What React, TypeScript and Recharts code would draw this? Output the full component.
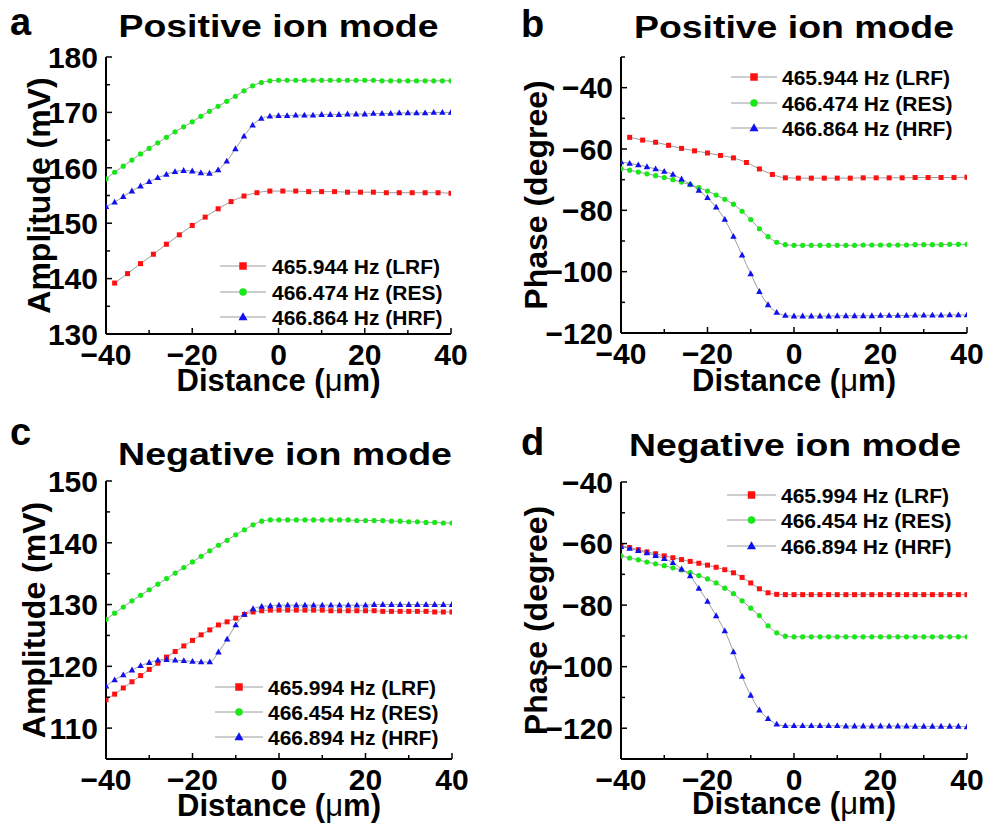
import React from "react";
import { LineChart, Line, XAxis, YAxis } from "recharts";

const FONT = '"Liberation Sans", Arial, Helvetica, sans-serif';
const LINE_GRAY = "#9c9c9c";
const RED = "#ff1010";
const GREEN = "#18e818";
const BLUE = "#1010f0";

// distance positions (µm)
const xDense = [
  -40, -38, -36, -34, -32, -30, -28, -26, -24, -22, -20, -18, -16, -14, -12, -10, -8, -6, -4, -2,
  0, 2, 4, 6, 8, 10, 12, 14, 16, 18, 20, 22, 24, 26, 28, 30, 32, 34, 36, 38, 40,
];
const xSparse = [
  -38, -35, -32, -29, -26, -23, -20, -17, -14, -11, -8, -5, -2, 1, 4, 7, 10, 13, 16, 19, 22, 25,
  28, 31, 34, 37, 40,
];

const xTicks = [-40, -30, -20, -10, 0, 10, 20, 30, 40];
const xMajor = [-40, -20, 0, 20, 40];

// a: positive ion mode, amplitude (mV)
const ampPosLRF = [
  139.2, 140.9, 142.7, 144.4, 146.2, 147.9, 149.6, 151.1, 152.6, 153.9, 154.9, 155.5, 155.8, 155.8,
  155.8, 155.7, 155.7, 155.7, 155.6, 155.6, 155.6, 155.5, 155.5, 155.5, 155.5, 155.5, 155.4,
];
const ampPosRES = [
  158.0, 159.2, 160.3, 161.4, 162.5, 163.5, 164.5, 165.5, 166.5, 167.4, 168.3, 169.3, 170.2, 171.1,
  172.0, 172.9, 173.9, 174.8, 175.4, 175.7, 175.8, 175.8, 175.8, 175.8, 175.8, 175.8, 175.8, 175.8,
  175.8, 175.8, 175.8, 175.8, 175.7, 175.7, 175.7, 175.7, 175.7, 175.7, 175.7, 175.7, 175.7,
];
const ampPosHRF = [
  153.0, 153.8, 154.8, 155.8, 156.7, 157.5, 158.2, 158.8, 159.3, 159.5, 159.4, 159.1, 159.0, 159.6,
  161.2, 163.4, 165.7, 167.7, 168.9, 169.3, 169.4, 169.4, 169.5, 169.5, 169.5, 169.6, 169.6, 169.6,
  169.7, 169.7, 169.7, 169.8, 169.8, 169.8, 169.9, 169.9, 169.9, 169.9, 170.0, 170.0, 170.0,
];

// b: positive ion mode, phase (degree)
const phPosLRF = [
  -56.2, -57.1, -57.8, -58.8, -59.8, -60.6, -61.3, -62.1, -62.9, -64.4, -66.5, -68.3, -69.4, -69.5,
  -69.5, -69.5, -69.5, -69.5, -69.4, -69.4, -69.4, -69.4, -69.3, -69.3, -69.3, -69.3, -69.2,
];
const phPosRES = [
  -66.4, -66.9, -67.5, -68.1, -68.7, -69.3, -70.0, -70.8, -71.6, -72.6, -73.7, -75.0, -76.4, -78.0,
  -80.3, -83.0, -86.0, -88.6, -90.4, -91.2, -91.4, -91.4, -91.4, -91.4, -91.4, -91.4, -91.4, -91.4,
  -91.3, -91.3, -91.3, -91.3, -91.3, -91.3, -91.2, -91.2, -91.2, -91.2, -91.1, -91.1, -91.1,
];
const phPosHRF = [
  -64.2, -64.7, -65.2, -65.8, -66.5, -67.3, -68.3, -69.8, -71.5, -73.5, -75.9, -79.0, -83.0, -88.5,
  -94.6, -100.7, -106.5, -110.8, -113.3, -114.3, -114.5, -114.5, -114.5, -114.5, -114.5, -114.4,
  -114.4, -114.4, -114.4, -114.4, -114.3, -114.3, -114.3, -114.3, -114.2, -114.2, -114.2, -114.2,
  -114.1, -114.1, -114.1,
];

// c: negative ion mode, amplitude (mV)
const ampNegLRF = [
  114.6, 115.5, 116.5, 117.5, 118.5, 119.5, 120.5, 121.5, 122.4, 123.3, 124.2, 125.1, 125.9, 126.7,
  127.2, 127.8, 128.4, 128.8, 129.0, 129.1, 129.1, 129.1, 129.1, 129.1, 129.1, 129.1, 129.0, 129.0,
  129.0, 129.0, 129.0, 129.0, 128.9, 128.9, 128.9, 128.9, 128.9, 128.9, 128.8, 128.8, 128.8,
];
const ampNegRES = [
  127.6, 128.6, 129.6, 130.6, 131.5, 132.4, 133.3, 134.2, 135.1, 136.0, 136.9, 137.8, 138.7, 139.6,
  140.4, 141.3, 142.1, 142.9, 143.5, 143.7, 143.7, 143.7, 143.7, 143.7, 143.7, 143.7, 143.7, 143.7,
  143.7, 143.6, 143.6, 143.6, 143.6, 143.5, 143.5, 143.4, 143.4, 143.3, 143.3, 143.2, 143.2,
];
const ampNegHRF = [
  116.8, 117.8, 118.6, 119.4, 120.1, 120.6, 121.0, 121.1, 121.0, 120.9, 120.8, 120.7, 120.7, 122.3,
  124.4, 126.7, 128.4, 129.3, 129.7, 129.8, 129.9, 129.9, 129.9, 129.9, 129.9, 129.9, 129.9, 129.9,
  129.9, 129.9, 129.9, 130.0, 130.0, 130.0, 130.0, 130.0, 130.0, 130.0, 130.0, 130.0, 130.0,
];

// d: negative ion mode, phase (degree)
const phNegLRF = [
  -60.7, -61.3, -62.0, -62.7, -63.3, -64.0, -64.6, -65.2, -65.8, -66.4, -67.0, -67.7, -68.5, -69.5,
  -71.0, -72.8, -74.7, -76.0, -76.5, -76.6, -76.6, -76.6, -76.6, -76.6, -76.6, -76.6, -76.6, -76.6,
  -76.6, -76.6, -76.6, -76.6, -76.6, -76.6, -76.6, -76.6, -76.6, -76.6, -76.6, -76.6, -76.6,
];
const phNegRES = [
  -64.0, -64.7, -65.3, -66.0, -66.6, -67.2, -67.9, -68.6, -69.4, -70.4, -71.5, -72.8, -74.5, -76.3,
  -78.6, -81.0, -83.4, -86.7, -89.0, -90.1, -90.3, -90.3, -90.3, -90.3, -90.3, -90.3, -90.3, -90.3,
  -90.3, -90.3, -90.3, -90.3, -90.3, -90.3, -90.3, -90.3, -90.3, -90.3, -90.3, -90.3, -90.3,
];
const phNegHRF = [
  -61.0, -61.6, -62.3, -63.0, -63.9, -64.9, -66.2, -68.3, -70.5, -74.6, -78.8, -83.5, -88.4, -95.2,
  -103.2, -109.3, -114.1, -116.9, -118.7, -119.2, -119.2, -119.2, -119.2, -119.2, -119.2, -119.2,
  -119.3, -119.3, -119.3, -119.3, -119.3, -119.3, -119.3, -119.3, -119.4, -119.4, -119.4, -119.4,
  -119.4, -119.4, -119.6,
];

const posLabels = ["465.944 Hz (LRF)", "466.474 Hz (RES)", "466.864 Hz (HRF)"];
const negLabels = ["465.994 Hz (LRF)", "466.454 Hz (RES)", "466.894 Hz (HRF)"];

const ampPosTicks = [130, 135, 140, 145, 150, 155, 160, 165, 170, 175, 180];
const ampPosMajor = [130, 140, 150, 160, 170, 180];
const ampNegTicks = [105, 110, 115, 120, 125, 130, 135, 140, 145, 150];
const ampNegMajor = [110, 120, 130, 140, 150];
const phPosTicks = [-120, -110, -100, -90, -80, -70, -60, -50, -40, -30];
const phNegTicks = [-130, -120, -110, -100, -90, -80, -70, -60, -50, -40];
const phMajor = [-120, -100, -80, -60, -40];

type Shape = "square" | "circle" | "triangle";

function Marker({ shape, color, cx, cy, size }: any) {
  if (cx == null || cy == null) return null;
  if (shape === "square")
    return <rect x={cx - size / 2} y={cy - size / 2} width={size} height={size} fill={color} />;
  if (shape === "circle") return <circle cx={cx} cy={cy} r={size / 2} fill={color} />;
  const h = size * 0.9;
  return (
    <polygon
      points={`${cx},${cy - h * 0.6} ${cx - size / 2},${cy + h * 0.4} ${cx + size / 2},${cy + h * 0.4}`}
      fill={color}
    />
  );
}

const fmt = (v: number) => (v < 0 ? "\u2212" + Math.abs(v) : String(v));

function makeSeries(labels: string[], xs: number[][], ys: number[][]) {
  const shapes: Shape[] = ["square", "circle", "triangle"];
  const colors = [RED, GREEN, BLUE];
  const sizes = [5, 5.2, 6.5];
  return labels.map((label, i) => ({
    label,
    shape: shapes[i],
    color: colors[i],
    size: sizes[i],
    rows: xs[i].map((x, k) => ({ x, v: ys[i][k] })),
  }));
}

const panels = [
  {
    id: "a",
    ox: 0,
    oy: 0,
    title: "Positive ion mode",
    titleX: 278.5,
    titleY: 37,
    titleW: 320,
    letterX: 10,
    letterY: 35,
    yTitle: "Amplitude (mV)",
    yTitleX: 50,
    xTitleY: 391,
    plot: { left: 106, right: 451, top: 57, bottom: 334 },
    yDomain: [130, 180],
    yTicks: ampPosTicks,
    yMajor: ampPosMajor,
    legend: { x0: 220, x1: 266, tx: 272, rows: [266, 292, 317] },
    series: makeSeries(posLabels, [xSparse, xDense, xDense], [ampPosLRF, ampPosRES, ampPosHRF]),
  },
  {
    id: "b",
    ox: 494,
    oy: 0,
    title: "Positive ion mode",
    titleX: 300,
    titleY: 38,
    titleW: 320,
    letterX: 27,
    letterY: 37,
    yTitle: "Phase (degree)",
    yTitleX: 53,
    xTitleY: 391,
    plot: { left: 127, right: 473, top: 57, bottom: 333 },
    yDomain: [-120, -30],
    yTicks: phPosTicks,
    yMajor: phMajor,
    legend: { x0: 237, x1: 283, tx: 288, rows: [77, 103, 128] },
    series: makeSeries(posLabels, [xSparse, xDense, xDense], [phPosLRF, phPosRES, phPosHRF]),
  },
  {
    id: "c",
    ox: 0,
    oy: 413,
    title: "Negative ion mode",
    titleX: 285,
    titleY: 52,
    titleW: 334,
    letterX: 10,
    letterY: 32,
    yTitle: "Amplitude (mV)",
    yTitleX: 45,
    xTitleY: 403,
    plot: { left: 106, right: 452, top: 68, bottom: 346 },
    yDomain: [105, 150],
    yTicks: ampNegTicks,
    yMajor: ampNegMajor,
    legend: { x0: 215, x1: 263, tx: 268, rows: [274, 299, 324] },
    series: makeSeries(negLabels, [xDense, xDense, xDense], [ampNegLRF, ampNegRES, ampNegHRF]),
  },
  {
    id: "d",
    ox: 494,
    oy: 413,
    title: "Negative ion mode",
    titleX: 301,
    titleY: 43,
    titleW: 332,
    letterX: 27,
    letterY: 42,
    yTitle: "Phase (degree)",
    yTitleX: 53,
    xTitleY: 401,
    plot: { left: 127, right: 473, top: 69, bottom: 346 },
    yDomain: [-130, -40],
    yTicks: phNegTicks,
    yMajor: phMajor,
    legend: { x0: 233, x1: 282, tx: 287, rows: [82, 107, 133] },
    series: makeSeries(negLabels, [xDense, xDense, xDense], [phNegLRF, phNegRES, phNegHRF]),
  },
];

const W = 494;
const H = 413;
const MAJOR_LEN = 6;
const MINOR_LEN = 4;

function Panel({ p }: { p: (typeof panels)[number] }) {
  const { plot } = p;
  const axisLine = { stroke: "#000", strokeWidth: 2 };
  const tickText = { fontFamily: FONT, fontWeight: 700, fontSize: 30, fill: "#000" };

  const bottomTick = ({ x, y, payload }: any) => {
    const major = xMajor.includes(payload.value);
    return (
      <g>
        <line x1={x} x2={x} y1={y} y2={y - (major ? MAJOR_LEN : MINOR_LEN)} stroke="#000" strokeWidth={1.5} />
        {major && (
          <text x={x} y={y + 31} textAnchor="middle" {...tickText}>
            {fmt(payload.value)}
          </text>
        )}
      </g>
    );
  };
  const topTick = ({ x, y, payload }: any) => {
    const major = xMajor.includes(payload.value);
    return <line x1={x} x2={x} y1={y} y2={y + (major ? MAJOR_LEN : MINOR_LEN)} stroke="#000" strokeWidth={1.5} />;
  };
  const leftTick = ({ x, y, payload }: any) => {
    const major = p.yMajor.includes(payload.value);
    return (
      <g>
        <line x1={x} x2={x + (major ? MAJOR_LEN : MINOR_LEN)} y1={y} y2={y} stroke="#000" strokeWidth={1.5} />
        {major && (
          <text x={x - 8} y={y} dy="0.36em" textAnchor="end" {...tickText}>
            {fmt(payload.value)}
          </text>
        )}
      </g>
    );
  };
  const rightTick = ({ x, y, payload }: any) => {
    const major = p.yMajor.includes(payload.value);
    return <line x1={x} x2={x - (major ? MAJOR_LEN : MINOR_LEN)} y1={y} y2={y} stroke="#000" strokeWidth={1.5} />;
  };

  const cx = (plot.left + plot.right) / 2;
  const cy = (plot.top + plot.bottom) / 2;
  const lg = p.legend;

  return (
    <div style={{ position: "absolute", left: p.ox, top: p.oy, width: W, height: H }}>
      <LineChart
        width={W}
        height={H}
        margin={{ top: plot.top, right: W - plot.right, bottom: 0, left: 0 }}
      >
        <XAxis
          xAxisId="b"
          type="number"
          dataKey="x"
          domain={[-40, 40]}
          ticks={xTicks}
          interval={0}
          height={H - plot.bottom}
          tickSize={0}
          tickMargin={0}
          tickLine={false}
          axisLine={axisLine}
          tick={bottomTick}
          allowDataOverflow
        />
        <XAxis
          xAxisId="t"
          orientation="top"
          type="number"
          dataKey="x"
          domain={[-40, 40]}
          ticks={xTicks}
          interval={0}
          height={0}
          tickSize={0}
          tickMargin={0}
          tickLine={false}
          axisLine={axisLine}
          tick={topTick}
          allowDataOverflow
        />
        <YAxis
          yAxisId="l"
          type="number"
          domain={p.yDomain}
          ticks={p.yTicks}
          interval={0}
          width={plot.left}
          tickSize={0}
          tickMargin={0}
          tickLine={false}
          axisLine={axisLine}
          tick={leftTick}
          allowDataOverflow
        />
        <YAxis
          yAxisId="r"
          orientation="right"
          type="number"
          domain={p.yDomain}
          ticks={p.yTicks}
          interval={0}
          width={0}
          tickSize={0}
          tickMargin={0}
          tickLine={false}
          axisLine={axisLine}
          tick={rightTick}
          allowDataOverflow
        />
        {p.series.map((s) => (
          <Line
            key={s.label}
            name={s.label}
            data={s.rows}
            dataKey="v"
            xAxisId="b"
            yAxisId="l"
            type="monotone"
            stroke={LINE_GRAY}
            strokeWidth={1}
            isAnimationActive={false}
            dot={(props: any) => (
              <Marker
                key={`${s.label}-${props.index}`}
                shape={s.shape}
                color={s.color}
                cx={props.cx}
                cy={props.cy}
                size={s.size}
              />
            )}
            activeDot={false}
          />
        ))}
      </LineChart>
      <svg
        width={W}
        height={H}
        style={{ position: "absolute", left: 0, top: 0, pointerEvents: "none", overflow: "visible" }}
        fontFamily={FONT}
        fontWeight={700}
      >
        <text x={p.letterX} y={p.letterY} fontSize={38}>
          {p.id}
        </text>
        <text
          x={p.titleX}
          y={p.titleY}
          fontSize={32}
          textAnchor="middle"
          textLength={p.titleW}
          lengthAdjust="spacingAndGlyphs"
        >
          {p.title}
        </text>
        <text
          x={p.yTitleX}
          y={cy}
          fontSize={32}
          textAnchor="middle"
          transform={`rotate(-90 ${p.yTitleX} ${cy})`}
        >
          {p.yTitle}
        </text>
        <text x={cx} y={p.xTitleY} fontSize={31} textAnchor="middle">
          Distance (<tspan fontWeight={400}>μ</tspan>m)
        </text>
        {p.series.map((s, i) => {
          const y = lg.rows[i];
          return (
            <g key={s.label}>
              <line x1={lg.x0} x2={lg.x1} y1={y} y2={y} stroke={LINE_GRAY} strokeWidth={1} />
              <Marker
                shape={s.shape}
                color={s.color}
                cx={(lg.x0 + lg.x1) / 2}
                cy={y}
                size={s.shape === "triangle" ? 9 : 7.5}
              />
              <text x={lg.tx} y={y + 7.5} fontSize={21}>
                {s.label}
              </text>
            </g>
          );
        })}
      </svg>
    </div>
  );
}

export default function App() {
  return (
    <div
      style={{
        position: "absolute",
        left: 0,
        top: 0,
        width: 988,
        height: 826,
        background: "#fff",
        overflow: "hidden",
      }}
    >
      {panels.map((p) => (
        <Panel key={p.id} p={p} />
      ))}
    </div>
  );
}
